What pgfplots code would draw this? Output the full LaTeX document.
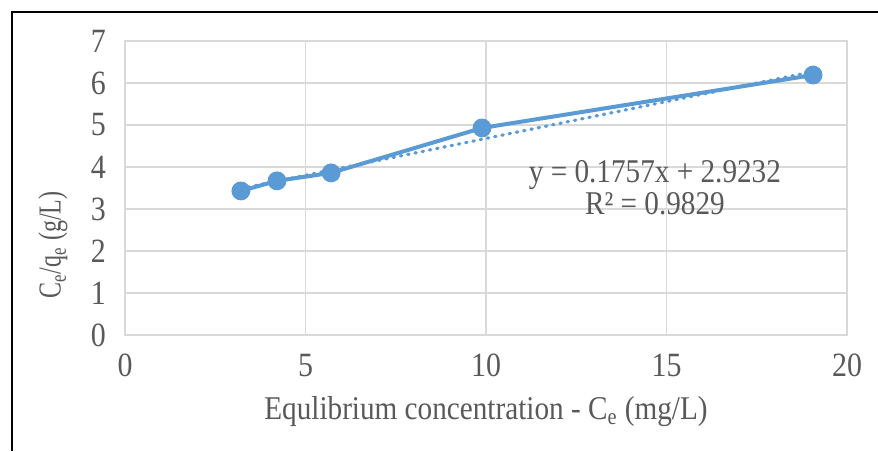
\documentclass[border=0pt]{standalone}
\usepackage{fontspec}
\setmainfont{Liberation Serif}[FakeStretch=0.88]
\newfontfamily\ylabfont{Liberation Serif}[FakeStretch=0.75]
\usepackage{pgfplots}
\pgfplotsset{compat=1.18}
\definecolor{serblue}{HTML}{5B9BD5}
\definecolor{gridgray}{HTML}{D9D9D9}
\definecolor{txtgray}{HTML}{595959}
\begin{document}
\begin{tikzpicture}
\useasboundingbox (0,0) rectangle (439pt,225.5pt);
\draw[line width=1pt] (6pt,0) -- (6pt,219.5pt) -- (439pt,219.5pt);
\begin{axis}[
    at={(62.5pt,58pt)}, anchor=south west,
    scale only axis, width=361pt, height=147pt,
    xmin=0, xmax=20, ymin=0, ymax=7,
    xtick={0,5,...,20}, ytick={0,1,...,7},
    grid=major, grid style={gridgray, line width=0.8pt},
    axis line style={gridgray, line width=0.8pt},
    major tick length=0pt,
    tick label style={font=\fontsize{17}{19}\selectfont, text=txtgray},
    /pgf/number format/assume math mode=true,
    xticklabel style={yshift=-6pt},
    yticklabel style={xshift=-6pt},
    xlabel={Equlibrium concentration - C\textsubscript{e} (mg/L)},
    ylabel={C\textsubscript{e}/q\textsubscript{e} (g/L)},
    every axis x label/.style={at={(axis description cs:0.5,-0.259)}, anchor=center,
        font=\fontsize{16.6}{18}\selectfont, text=txtgray},
    every axis y label/.style={at={(axis description cs:-0.0997,0.306)}, anchor=center, rotate=90,
        font=\ylabfont\fontsize{16}{18}\selectfont, text=txtgray},
    clip=false,
]
\addplot[serblue, line width=2pt, mark=*, mark size=3.7pt, mark options={solid, fill=serblue}]
    coordinates {(3.21,3.43) (4.21,3.67) (5.71,3.86) (9.89,4.93) (19.06,6.19)};
\addplot[serblue, line width=1.6pt, line cap=round, dash pattern=on 0.7pt off 3pt]
    coordinates {(3.21,3.4872) (19.06,6.2720)};
\node[font=\fontsize{16.6}{18}\selectfont, text=txtgray, align=center] at (axis cs:14.68,3.5)
    {y = 0.1757x + 2.9232\\[-2pt] R² = 0.9829};
\end{axis}
\end{tikzpicture}
\end{document}
